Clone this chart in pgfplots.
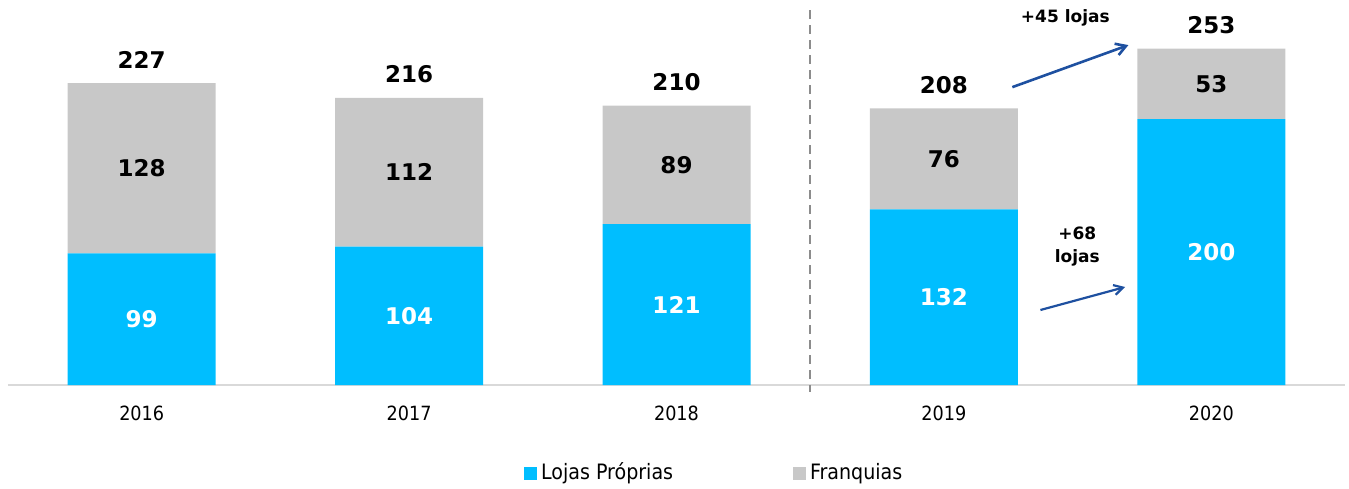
\documentclass[border=0pt]{standalone}
\usepackage{pgfplots}
\pgfplotsset{compat=1.18}
\usepackage{fontspec}
\setmainfont{DejaVu Sans}
\newfontfamily\condfont{DejaVu Sans Condensed}
\usetikzlibrary{arrows.meta}
\definecolor{lojas}{RGB}{0,190,255}
\definecolor{fran}{RGB}{200,200,200}
\definecolor{arr}{RGB}{30,80,160}
\tikzset{tot/.style={font=\fontsize{11.5}{12}\selectfont\bfseries, anchor=south, yshift=4pt}}
\begin{document}
\begin{tikzpicture}
\begin{axis}[
  name=ax,
  scale only axis,
  width=668.5pt, height=187.5pt,
  xmin=-0.5, xmax=4.5, ymin=0, ymax=282,
  ybar stacked, bar width=74pt,
  axis x line=bottom, axis y line=none,
  x axis line style={draw=black!15, line width=0.8pt, -},
  xtick=data, xticklabels={2016,2017,2018,2019,2020},
  major tick length=0pt,
  /pgf/number format/assume math mode=true,
  xticklabel style={font=\condfont\fontsize{9.8}{11}\selectfont, yshift=-7pt},
  clip=false,
  legend style={at={(0.529,-0.2347)}, anchor=center, draw=none, legend columns=2,
    font=\condfont\fontsize{10.6}{12}\selectfont, /tikz/every even column/.append style={column sep=58pt},
    inner sep=0pt},
  legend image code/.code={\fill[#1] (0pt,-3.25pt) rectangle (6.5pt,3.25pt);},
  every node near coord/.append style={font=\fontsize{11.5}{12}\selectfont\bfseries},
  nodes near coords, nodes near coords align=center,
]
\addplot[fill=lojas, draw=none, every node near coord/.append style={text=white}] coordinates {(0,99) (1,104) (2,121) (3,132) (4,200)};
\addplot[fill=fran, draw=none, every node near coord/.append style={text=black}] coordinates {(0,128) (1,112) (2,89) (3,76) (4,53)};
\legend{Lojas Próprias, Franquias}
\node[tot] at (axis cs:0,227) {227};
\node[tot] at (axis cs:1,216) {216};
\node[tot] at (axis cs:2,210) {210};
\node[tot] at (axis cs:3,208) {208};
\node[tot] at (axis cs:4,253) {253};
\draw[black!45, line width=0.9pt, dash pattern=on 4.5pt off 3pt] (axis cs:2.5,282) -- (axis cs:2.5,-5);
\draw[arr, line width=1.3pt, -{Straight Barb[length=5pt,width=6pt]}] (axis cs:3.256,224) -- (axis cs:3.69,255.6);
\draw[arr, line width=1.1pt, -{Straight Barb[length=4.5pt,width=5pt]}] (axis cs:3.361,56.4) -- (axis cs:3.678,73.7);
\node[font=\fontsize{8.5}{10}\selectfont\bfseries] at (axis cs:3.454,276) {+45 lojas};
\node[font=\fontsize{8.5}{11.5}\selectfont\bfseries, align=center] at (axis cs:3.499,104.5) {+68\\lojas};
\end{axis}
\pgfresetboundingbox
\path (ax.south west) ++(-4pt,-51.5pt) rectangle ([xshift=2pt,yshift=5pt]ax.north east);
\end{tikzpicture}
\end{document}
